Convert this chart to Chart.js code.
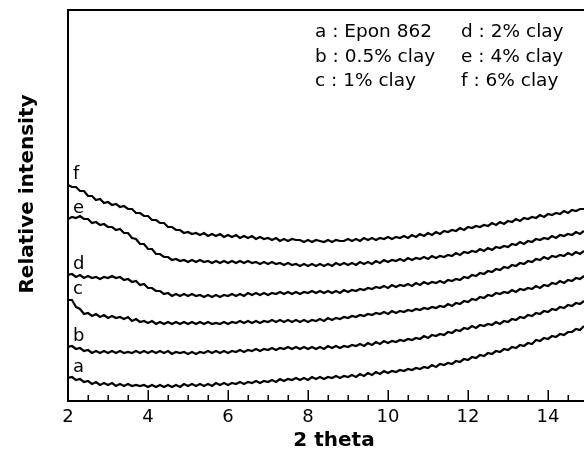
<!DOCTYPE html>
<html><head><meta charset="utf-8">
<script src="https://cdn.jsdelivr.net/npm/chart.js"></script>
<style>html,body{margin:0;padding:0;background:#fff}</style>
</head><body>
<canvas id="c" width="584" height="456"></canvas>
<script>
// 2-theta sampling grid (degrees)
const twoTheta = Array.from({length:130},(_,i)=>Math.round((2+i*0.1)*10)/10);
const xTicks = [2,4,6,8,10,12,14];
const seriesNames = ['a','b','c','d','e','f'];
const legendCol1 = ['a : Epon 862','b : 0.5% clay','c : 1% clay'];
const legendCol2 = ['d : 2% clay','e : 4% clay','f : 6% clay'];
const xTitle = '2 theta';
const yTitle = 'Relative intensity';

// relative intensity (offset stacked)
const serA = [23,24,21,22,19,20,17,19,16,18, 16,18,15,17,15,17,15,16,15,16, 14,16,14,16,14,16,14,16,14,17, 15,17,15,17,15,17,15,18,16,18,
  16,18,17,19,17,19,18,20,18,20, 19,21,19,22,20,22,21,23,21,23, 21,24,22,24,22,24,23,25,23,25, 24,26,24,27,25,28,26,29,27,30,
  28,30,29,31,30,32,31,33,32,34, 33,36,34,37,36,38,37,40,39,42, 41,44,43,46,45,48,47,50,49,52, 51,54,53,56,55,58,57,61,60,63, 62,65,64,67,66,69,69,72,71,75];
const serB = [54,55,52,53,50,51,48,50,48,50, 48,50,48,50,48,49,48,50,48,50, 48,50,48,50,48,50,47,49,48,49, 47,49,47,49,48,50,48,50,48,50,
  48,50,49,51,49,51,50,52,50,52, 51,53,51,53,52,54,52,54,52,54, 52,54,52,54,52,55,53,55,53,55, 54,56,55,57,55,58,56,59,57,60,
  58,60,59,61,60,62,61,63,62,65, 63,66,65,67,66,69,68,71,70,73, 72,75,73,76,75,77,76,79,77,80, 79,82,81,84,83,86,85,88,87,90, 89,92,91,94,93,96,95,98,97,100];
const serC = [101,101,94,92,87,88,85,87,84,86, 83,85,83,84,82,84,80,82,79,80, 78,80,77,79,77,79,77,79,77,79, 77,79,77,79,77,79,77,78,77,79,
  77,79,78,80,78,80,78,80,78,80, 79,81,79,81,79,81,79,81,79,81, 79,81,80,82,80,83,81,83,82,84, 83,85,84,86,85,87,86,88,87,89,
  87,90,88,90,89,91,90,92,91,93, 92,94,93,95,94,97,95,98,97,100, 99,102,101,104,103,106,105,108,107,109, 108,111,109,112,111,113,112,115,113,116, 115,118,117,120,118,121,120,123,122,125];
const serD = [126,127,124,126,123,125,123,124,122,124, 123,125,123,124,121,122,119,120,116,117, 113,113,110,110,107,108,105,107,105,107, 105,107,105,106,104,106,104,106,104,106,
  105,107,105,107,105,108,106,108,106,108, 106,108,107,109,107,109,107,109,107,109, 108,110,108,110,108,110,108,110,108,111, 109,111,110,112,111,113,112,114,113,115,
  113,116,114,116,115,117,115,118,116,119, 117,119,118,120,118,121,120,122,121,124, 123,126,125,128,127,130,129,132,131,134, 133,136,135,138,137,140,139,142,141,144, 142,145,144,146,145,148,146,149,147,150];
const serE = [182,184,183,185,182,182,178,179,176,177, 174,174,171,172,168,168,163,162,157,157, 152,152,147,147,144,144,141,142,140,141, 139,141,139,141,139,140,138,140,138,140,
  138,140,138,140,138,140,138,139,137,139, 137,139,137,138,136,138,136,137,135,137, 135,137,135,137,135,137,135,138,136,138, 136,138,136,139,137,139,137,140,138,141,
  139,141,140,142,140,143,141,143,142,144, 142,145,143,145,144,146,145,148,146,149, 148,150,149,152,150,153,151,154,153,155, 154,157,156,159,157,160,159,162,161,163, 162,165,163,166,165,167,166,169,167,170];
const serF = [216,214,214,210,210,205,205,201,202,198, 199,196,197,194,195,192,192,188,188,185, 185,181,181,178,178,174,174,171,171,168, 169,167,168,166,168,165,167,165,167,164,
  166,164,166,163,165,163,165,162,164,162, 163,161,163,160,162,160,162,161,161,159, 161,159,161,160,159,161,159,161,160,160, 162,160,162,160,163,161,163,161,163,162,
  164,162,164,163,165,163,166,164,167,165, 168,166,169,167,170,169,171,170,173,171, 174,173,175,174,176,175,178,176,179,177, 180,179,182,180,183,182,184,183,186,184, 187,186,188,187,190,188,191,190,192,192];

const allSeries = [serA, serB, serC, serD, serE, serF];
const FONT = '"DejaVu Sans", "Liberation Sans", Arial, sans-serif';

const deco = {
  id: 'deco',
  afterDraw(chart) {
    const {ctx, chartArea: ca, scales: {x, y}} = chart;
    ctx.save();
    ctx.strokeStyle = '#000';
    ctx.fillStyle = '#000';
    // top frame line
    ctx.lineWidth = 2;
    ctx.beginPath(); ctx.moveTo(ca.left - 1, ca.top); ctx.lineTo(ca.right, ca.top); ctx.stroke();
    // inward ticks (major every 2, minor every 0.5)
    ctx.lineWidth = 1.5;
    for (let v = x.min; v <= x.max + 1e-9; v += 0.5) {
      const px = Math.round(x.getPixelForValue(v)) + 0.25;
      const major = Math.round(v * 2) % 4 === 0;
      ctx.beginPath(); ctx.moveTo(px, ca.bottom); ctx.lineTo(px, ca.bottom - (major ? 11 : 6)); ctx.stroke();
    }
    // curve labels
    ctx.font = '18px ' + FONT;
    ctx.textAlign = 'left'; ctx.textBaseline = 'alphabetic';
    chart.data.datasets.forEach(ds => {
      const py = y.getPixelForValue(ds.data[0].y);
      ctx.fillText(ds.label, ca.left + 5, py - 6);
    });
    // legend text
    ctx.font = '18.5px ' + FONT;
    legendCol1.forEach((t, i) => ctx.fillText(t, ca.left + 247, ca.top + 27 + i * 24.5));
    legendCol2.forEach((t, i) => ctx.fillText(t, ca.left + 393, ca.top + 27 + i * 24.5));
    // axis titles
    ctx.font = 'bold 20px ' + FONT;
    ctx.textAlign = 'center';
    ctx.fillText(xTitle, 334, 446);
    ctx.translate(33, 194); ctx.rotate(-Math.PI / 2);
    ctx.fillText(yTitle, 0, 0);
    ctx.restore();
  }
};

new Chart(document.getElementById('c'), {
  type: 'line',
  data: {
    datasets: allSeries.map((s, i) => ({
      label: seriesNames[i],
      data: s.map((v, k) => ({x: twoTheta[k], y: v})),
      borderColor: '#000', borderWidth: 2.2, pointRadius: 0, tension: 0, fill: false,
      borderJoinStyle: 'miter'
    }))
  },
  options: {
    responsive: false, animation: false, devicePixelRatio: 1,
    layout: {padding: {top: 10, right: 0, left: 0, bottom: 0}},
    plugins: {legend: {display: false}, tooltip: {enabled: false}},
    scales: {
      x: {
        type: 'linear', min: 2, max: 14.9,
        afterBuildTicks: s => { s.ticks = xTicks.map(v => ({value: v})); },
        afterFit: s => { s.height = 55; },
        ticks: {color: '#000', font: {family: FONT, size: 18}, padding: 6, maxRotation: 0, autoSkip: false},
        grid: {display: false, drawTicks: false},
        border: {display: true, color: '#000', width: 2}
      },
      y: {
        min: 0, max: 391,
        afterFit: s => { s.width = 68; },
        ticks: {display: false},
        grid: {display: false, drawTicks: false},
        border: {display: true, color: '#000', width: 2}
      }
    }
  },
  plugins: [deco]
});
</script>
</body></html>
